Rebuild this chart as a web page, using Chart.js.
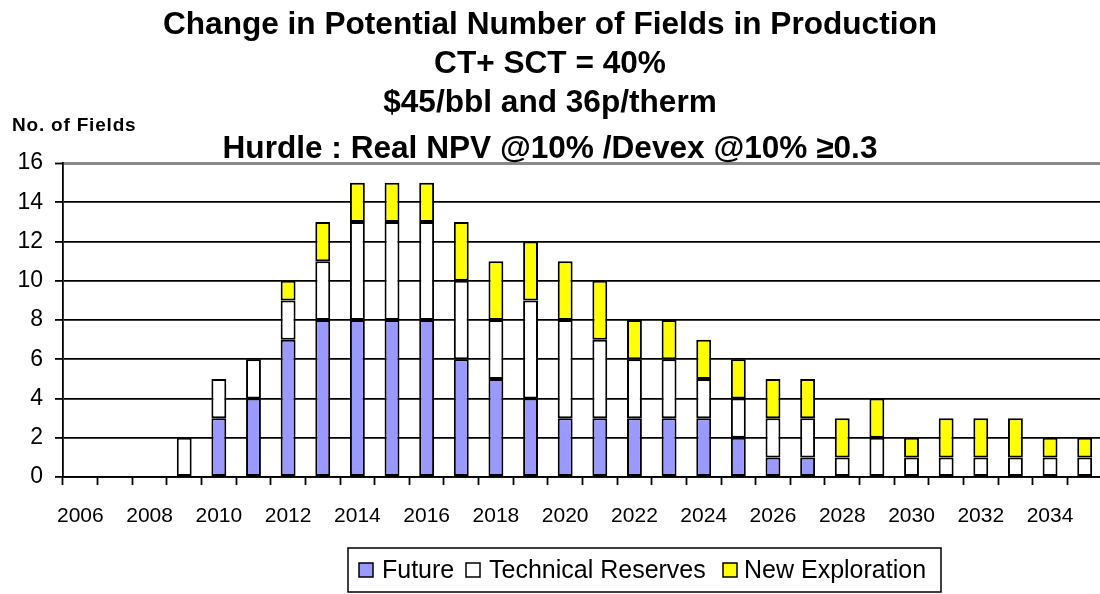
<!DOCTYPE html>
<html>
<head>
<meta charset="utf-8">
<title>Change in Potential Number of Fields in Production</title>
<script src="https://cdn.jsdelivr.net/npm/chart.js@4"></script>
<style>
  html, body { margin: 0; padding: 0; background: #fff; overflow: hidden; }
  #wrap { width: 1112px; height: 594px; }
</style>
</head>
<body>
<div id="wrap"><canvas id="fieldsChart" width="1112" height="594"></canvas></div>
<script>
// Chart data
const years = ['2006', '2007', '2008', '2009', '2010', '2011', '2012', '2013', '2014', '2015',
               '2016', '2017', '2018', '2019', '2020', '2021', '2022', '2023', '2024', '2025',
               '2026', '2027', '2028', '2029', '2030', '2031', '2032', '2033', '2034', '2035'];
const future      = [0, 0, 0, 0, 3, 4, 7, 8, 8, 8, 8, 6, 5, 4, 3, 3, 3, 3, 3, 2, 1, 1, 0, 0, 0, 0, 0, 0, 0, 0];
const technical   = [0, 0, 0, 2, 2, 2, 2, 3, 5, 5, 5, 4, 3, 5, 5, 4, 3, 3, 2, 2, 2, 2, 1, 2, 1, 1, 1, 1, 1, 1];
const exploration = [0, 0, 0, 0, 0, 0, 1, 2, 2, 2, 2, 3, 3, 3, 3, 3, 2, 2, 2, 2, 2, 2, 2, 2, 1, 2, 2, 2, 1, 1];
const xTickYears = ['2006', '2008', '2010', '2012', '2014', '2016', '2018', '2020',
                    '2022', '2024', '2026', '2028', '2030', '2032', '2034'];
const yTicks = [0, 2, 4, 6, 8, 10, 12, 14, 16];

const titleLines = [
    'Change in Potential Number of Fields in Production',
    'CT+ SCT = 40%',
    '$45/bbl and 36p/therm',
    'Hurdle : Real NPV @10% /Devex @10% \u22650.3'
];
const yAxisTitle = 'No. of Fields';

const FONT = "'Liberation Sans', Arial, sans-serif";
Chart.defaults.font.family = FONT;
Chart.defaults.color = '#000';

// Titles, y axis caption and boxed legend, drawn the way the original sheet lays them out
const decorations = {
    id: 'decorations',
    afterDraw(chart) {
        const c = chart.ctx;
        c.save();
        c.fillStyle = '#000';
        c.textAlign = 'center';
        c.textBaseline = 'alphabetic';
        c.font = 'bold 31.6px ' + FONT;
        const baselines = [34, 73, 112, 158];
        titleLines.forEach((t, i) => c.fillText(t, 550, baselines[i]));

        c.textAlign = 'left';
        c.font = 'bold 19px ' + FONT;
        c.letterSpacing = '0.8px';
        c.fillText(yAxisTitle, 12, 131);
        c.letterSpacing = '0px';

        // legend box
        c.strokeStyle = '#000';
        c.lineWidth = 1.5;
        c.strokeRect(348, 548, 593, 44);
        const swatchX = [359, 466, 723];
        const textX = [382, 489, 744];
        c.font = '25px ' + FONT;
        c.textBaseline = 'middle';
        chart.data.datasets.forEach((ds, i) => {
            c.fillStyle = ds.backgroundColor;
            c.fillRect(swatchX[i], 563, 14, 14);
            c.lineWidth = 1.5;
            c.strokeRect(swatchX[i], 563, 14, 14);
            c.fillStyle = '#000';
            c.fillText(ds.label, textX[i], 571);
        });
        c.restore();
    }
};

const segBorder = ctx => (ctx.raw ? 2 : 0);

const ctx = document.getElementById('fieldsChart').getContext('2d');
const fieldsChart = new Chart(ctx, {
    type: 'bar',
    data: {
        labels: years,
        datasets: [
            { label: 'Future', data: future, backgroundColor: '#9999FF' },
            { label: 'Technical Reserves', data: technical, backgroundColor: '#FFFFFF' },
            { label: 'New Exploration', data: exploration, backgroundColor: '#FFFF00' },
        ].map(d => Object.assign(d, {
            borderColor: '#000',
            borderWidth: segBorder,
            borderSkipped: false,
            barPercentage: 0.43,
            categoryPercentage: 1.0,
        })),
    },
    options: {
        responsive: false,
        animation: false,
        layout: { padding: { top: 163, right: 10, bottom: 0, left: 0 } },
        plugins: {
            legend: { display: false },
            title: { display: false },
            tooltip: { enabled: false },
        },
        scales: {
            x: {
                stacked: true,
                afterFit: s => { s.height = 117; },
                grid: {
                    offset: true,
                    drawOnChartArea: false,
                    drawTicks: true,
                    tickLength: 8,
                    tickColor: '#000',
                    tickWidth: 1.8,
                },
                border: { color: '#000', width: 1.8 },
                ticks: {
                    autoSkip: false,
                    maxRotation: 0,
                    padding: 19,
                    font: { size: 21 },
                    callback: (v, i) => (xTickYears.includes(years[i]) ? years[i] : ''),
                },
            },
            y: {
                stacked: true,
                min: yTicks[0],
                max: yTicks[yTicks.length - 1],
                afterFit: s => { s.width = 63; },
                grid: {
                    color: c => (c.tick && c.tick.value === 16 ? '#8a8a8a' : '#000'),
                    lineWidth: c => (c.tick && c.tick.value === 16 ? 3 : 1.8),
                    tickLength: 8,
                    tickColor: '#000',
                    tickWidth: 1.8,
                },
                border: { color: '#000', width: 1.8 },
                ticks: {
                    stepSize: 2,
                    padding: 12,
                    font: { size: 23 },
                },
            },
        },
    },
    plugins: [decorations],
});
</script>
</body>
</html>
